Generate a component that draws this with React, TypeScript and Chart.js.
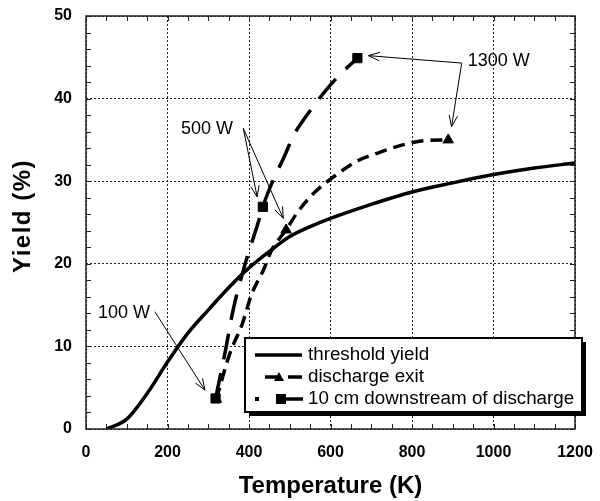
import React, { useEffect, useRef } from 'react';
import { Chart, registerables } from 'chart.js';

Chart.register(...registerables);

// ---------- data ----------
const thresholdTemp = [50, 100, 150, 200, 250, 300, 350, 400, 450, 500, 550, 600, 700, 800, 900, 1000, 1100, 1200];
const thresholdYield = [0, 1.2, 4.3, 8.1, 11.6, 14.4, 17.1, 19.5, 21.5, 23.3, 24.5, 25.5, 27.2, 28.7, 29.8, 30.8, 31.6, 32.2];

const exitTemp = [320, 352, 384, 407, 435, 456, 491, 517, 558, 615, 668, 721, 770, 828, 889];
const exitYield = [3.6, 9.0, 12.8, 16.4, 19.2, 21.7, 24.1, 26.1, 28.5, 30.8, 32.5, 33.5, 34.3, 34.9, 35.0];
const exitMarker = [1, 0, 0, 0, 0, 0, 1, 0, 0, 0, 0, 0, 0, 0, 1];

const downTemp = [318, 341, 361, 390, 422, 434, 459, 485, 509, 545, 582, 619, 666];
const downYield = [3.7, 9.2, 14.4, 19.9, 24.9, 26.9, 30.1, 32.8, 35.5, 38.2, 40.6, 42.7, 44.9];
const downMarker = [1, 0, 0, 0, 0, 1, 0, 0, 0, 0, 0, 0, 1];

const seriesLabels = ['threshold yield', 'discharge exit', '10 cm downstream of discharge'];
const xTitle = 'Temperature (K)';
const yTitle = 'Yield (%)';

const annotationLabels = ['100 W', '500 W', '1300 W'];
const annotationLabelT = [93, 297, 1013];
const annotationLabelY = [14.1, 36.3, 44.5];

const arrowFromT = [169, 386, 386, 922, 922];
const arrowFromY = [14.2, 36.4, 36.4, 44.3, 44.3];
const arrowToT = [292, 420, 484, 693, 897];
const arrowToY = [4.7, 28.1, 25.5, 45.2, 36.6];

const xMin = 0, xMax = 1200, xStep = 200, xMinorStep = 50;
const yMin = 0, yMax = 50, yStep = 10, yMinorStep = 2;

const FONT = "'Liberation Sans', Arial, Helvetica, sans-serif";

function toPoints(xs: number[], ys: number[]) {
  return xs.map((x, i) => ({ x, y: ys[i] }));
}

function drawArrow(ctx: CanvasRenderingContext2D, x1: number, y1: number, x2: number, y2: number) {
  ctx.beginPath();
  ctx.moveTo(x1, y1);
  ctx.lineTo(x2, y2);
  ctx.stroke();
  const ang = Math.atan2(y2 - y1, x2 - x1);
  const L = 12, s = 0.36;
  ctx.beginPath();
  ctx.moveTo(x2 - L * Math.cos(ang - s), y2 - L * Math.sin(ang - s));
  ctx.lineTo(x2, y2);
  ctx.lineTo(x2 - L * Math.cos(ang + s), y2 - L * Math.sin(ang + s));
  ctx.stroke();
}

export default function App() {
  const ref = useRef<HTMLCanvasElement>(null);

  useEffect(() => {
    const canvas = ref.current!;

    const overlay = {
      id: 'overlay',
      afterDraw(chart: any) {
        const { ctx, chartArea: a, scales } = chart;
        const xs = scales.x, ys = scales.y;
        ctx.save();

        // inward minor ticks
        ctx.strokeStyle = '#222';
        ctx.lineWidth = 1;
        ctx.setLineDash([]);
        const tl = 5;
        ctx.beginPath();
        for (let v = xMin; v <= xMax; v += xMinorStep) {
          const px = Math.round(xs.getPixelForValue(v)) + 0.5;
          ctx.moveTo(px, a.bottom); ctx.lineTo(px, a.bottom - tl);
          ctx.moveTo(px, a.top); ctx.lineTo(px, a.top + tl);
        }
        for (let v = yMin; v <= yMax; v += yMinorStep) {
          const py = Math.round(ys.getPixelForValue(v)) + 0.5;
          ctx.moveTo(a.left, py); ctx.lineTo(a.left + tl, py);
          ctx.moveTo(a.right, py); ctx.lineTo(a.right - tl, py);
        }
        ctx.stroke();

        // frame
        ctx.lineWidth = 1.5;
        ctx.strokeStyle = '#222';
        ctx.strokeRect(a.left, a.top, a.right - a.left, a.bottom - a.top);

        // y title (slightly letter-spaced like the original)
        ctx.save();
        ctx.translate(23, 216);
        ctx.rotate(-Math.PI / 2);
        ctx.fillStyle = '#000';
        ctx.font = `bold 24px ${FONT}`;
        (ctx as any).letterSpacing = '1.5px';
        ctx.textAlign = 'center';
        ctx.textBaseline = 'middle';
        ctx.fillText(yTitle, 0, 0);
        ctx.restore();

        // annotations
        ctx.fillStyle = '#000';
        ctx.font = `18px ${FONT}`;
        ctx.textAlign = 'center';
        ctx.textBaseline = 'middle';
        annotationLabels.forEach((t, i) => {
          ctx.fillText(t, xs.getPixelForValue(annotationLabelT[i]), ys.getPixelForValue(annotationLabelY[i]));
        });
        ctx.strokeStyle = '#000';
        ctx.lineWidth = 1;
        arrowFromT.forEach((_, i) => {
          drawArrow(ctx,
            xs.getPixelForValue(arrowFromT[i]), ys.getPixelForValue(arrowFromY[i]),
            xs.getPixelForValue(arrowToT[i]), ys.getPixelForValue(arrowToY[i]));
        });

        // legend box
        const L = 245, T = 338, R = 582, B = 412;
        ctx.fillStyle = '#000';
        ctx.fillRect(L + 4, T + 4, R - L, B - T);
        ctx.fillStyle = '#fff';
        ctx.fillRect(L, T, R - L, B - T);
        ctx.lineWidth = 2;
        ctx.strokeStyle = '#000';
        ctx.strokeRect(L, T, R - L, B - T);

        const rows = [355, 377, 399];
        ctx.lineWidth = 3.5;
        // threshold
        ctx.beginPath();
        ctx.moveTo(255, rows[0]); ctx.lineTo(302, rows[0]);
        ctx.stroke();
        // discharge exit
        ctx.beginPath();
        ctx.moveTo(265, rows[1]); ctx.lineTo(280, rows[1]);
        ctx.moveTo(288, rows[1]); ctx.lineTo(302, rows[1]);
        ctx.stroke();
        ctx.fillStyle = '#000';
        ctx.beginPath();
        ctx.moveTo(279, rows[1] - 5);
        ctx.lineTo(284, rows[1] + 4);
        ctx.lineTo(274, rows[1] + 4);
        ctx.closePath();
        ctx.fill();
        // 10 cm
        ctx.fillRect(255, rows[2] - 2, 4, 4);
        ctx.beginPath();
        ctx.moveTo(279, rows[2]); ctx.lineTo(303, rows[2]);
        ctx.stroke();
        ctx.fillRect(276, rows[2] - 5, 10, 10);

        ctx.font = `18.8px ${FONT}`;
        ctx.textAlign = 'left';
        ctx.textBaseline = 'middle';
        seriesLabels.forEach((t, i) => ctx.fillText(t, 308, rows[i]));

        ctx.restore();
      },
    };

    const chart = new Chart(canvas, {
      type: 'scatter',
      data: {
        datasets: [
          {
            label: seriesLabels[0],
            data: toPoints(thresholdTemp, thresholdYield),
            showLine: true,
            borderColor: '#000',
            backgroundColor: '#000',
            borderWidth: 3.5,
            pointRadius: 0,
            cubicInterpolationMode: 'monotone',
            order: 2,
          },
          {
            label: seriesLabels[1],
            data: toPoints(exitTemp, exitYield),
            showLine: true,
            borderColor: '#000',
            backgroundColor: '#000',
            borderWidth: 3.5,
            borderDash: [12, 7],
            pointStyle: 'triangle',
            pointRadius: exitMarker.map((m) => (m ? 6 : 0)),
            pointBorderWidth: 1,
            cubicInterpolationMode: 'monotone',
            order: 1,
          },
          {
            label: seriesLabels[2],
            data: toPoints(downTemp, downYield),
            showLine: true,
            borderColor: '#000',
            backgroundColor: '#000',
            borderWidth: 3.5,
            borderDash: [26, 14],
            pointStyle: 'rect',
            pointRadius: downMarker.map((m) => (m ? 6.5 : 0)),
            pointBorderWidth: 1,
            cubicInterpolationMode: 'monotone',
            order: 0,
          },
        ],
      } as any,
      options: {
        responsive: false,
        animation: false,
        devicePixelRatio: 1,
        layout: { padding: { top: 16, right: 25, left: 0, bottom: 0 } },
        plugins: {
          legend: { display: false },
          tooltip: { enabled: false },
        },
        elements: { line: { borderCapStyle: 'butt' } },
        scales: {
          x: {
            type: 'linear',
            min: xMin,
            max: xMax,
            afterFit: (s: any) => {
              s.height = 72;
              s.paddingLeft = 0; s.paddingRight = 0; s.paddingTop = 0; s.paddingBottom = 0;
            },
            ticks: {
              stepSize: xStep,
              padding: 14,
              color: '#000',
              font: { family: FONT, size: 16, weight: 'bold' },
              callback: (v: any) => String(v),
            },
            grid: { color: '#222', lineWidth: 1, drawTicks: false },
            border: { display: false, dash: [2, 2] },
            title: {
              display: true,
              text: xTitle,
              color: '#000',
              font: { family: FONT, size: 24, weight: 'bold' },
              padding: { top: 0, bottom: 0 },
            },
          },
          y: {
            type: 'linear',
            min: yMin,
            max: yMax,
            afterFit: (s: any) => {
              s.width = 86;
              s.paddingLeft = 0; s.paddingRight = 0; s.paddingTop = 0; s.paddingBottom = 0;
            },
            ticks: {
              stepSize: yStep,
              padding: 14,
              color: '#000',
              font: { family: FONT, size: 16, weight: 'bold' },
              callback: (v: any) => String(v),
            },
            grid: { color: '#222', lineWidth: 1, drawTicks: false },
            border: { display: false, dash: [2, 2] },
            title: { display: false },
          },
        },
      } as any,
      plugins: [overlay],
    });

    return () => chart.destroy();
  }, []);

  return (
    <div style={{ position: 'fixed', left: 0, top: 0, width: 600, height: 501, background: '#fff' }}>
      <canvas ref={ref} width={600} height={501} style={{ display: 'block' }} />
    </div>
  );
}
